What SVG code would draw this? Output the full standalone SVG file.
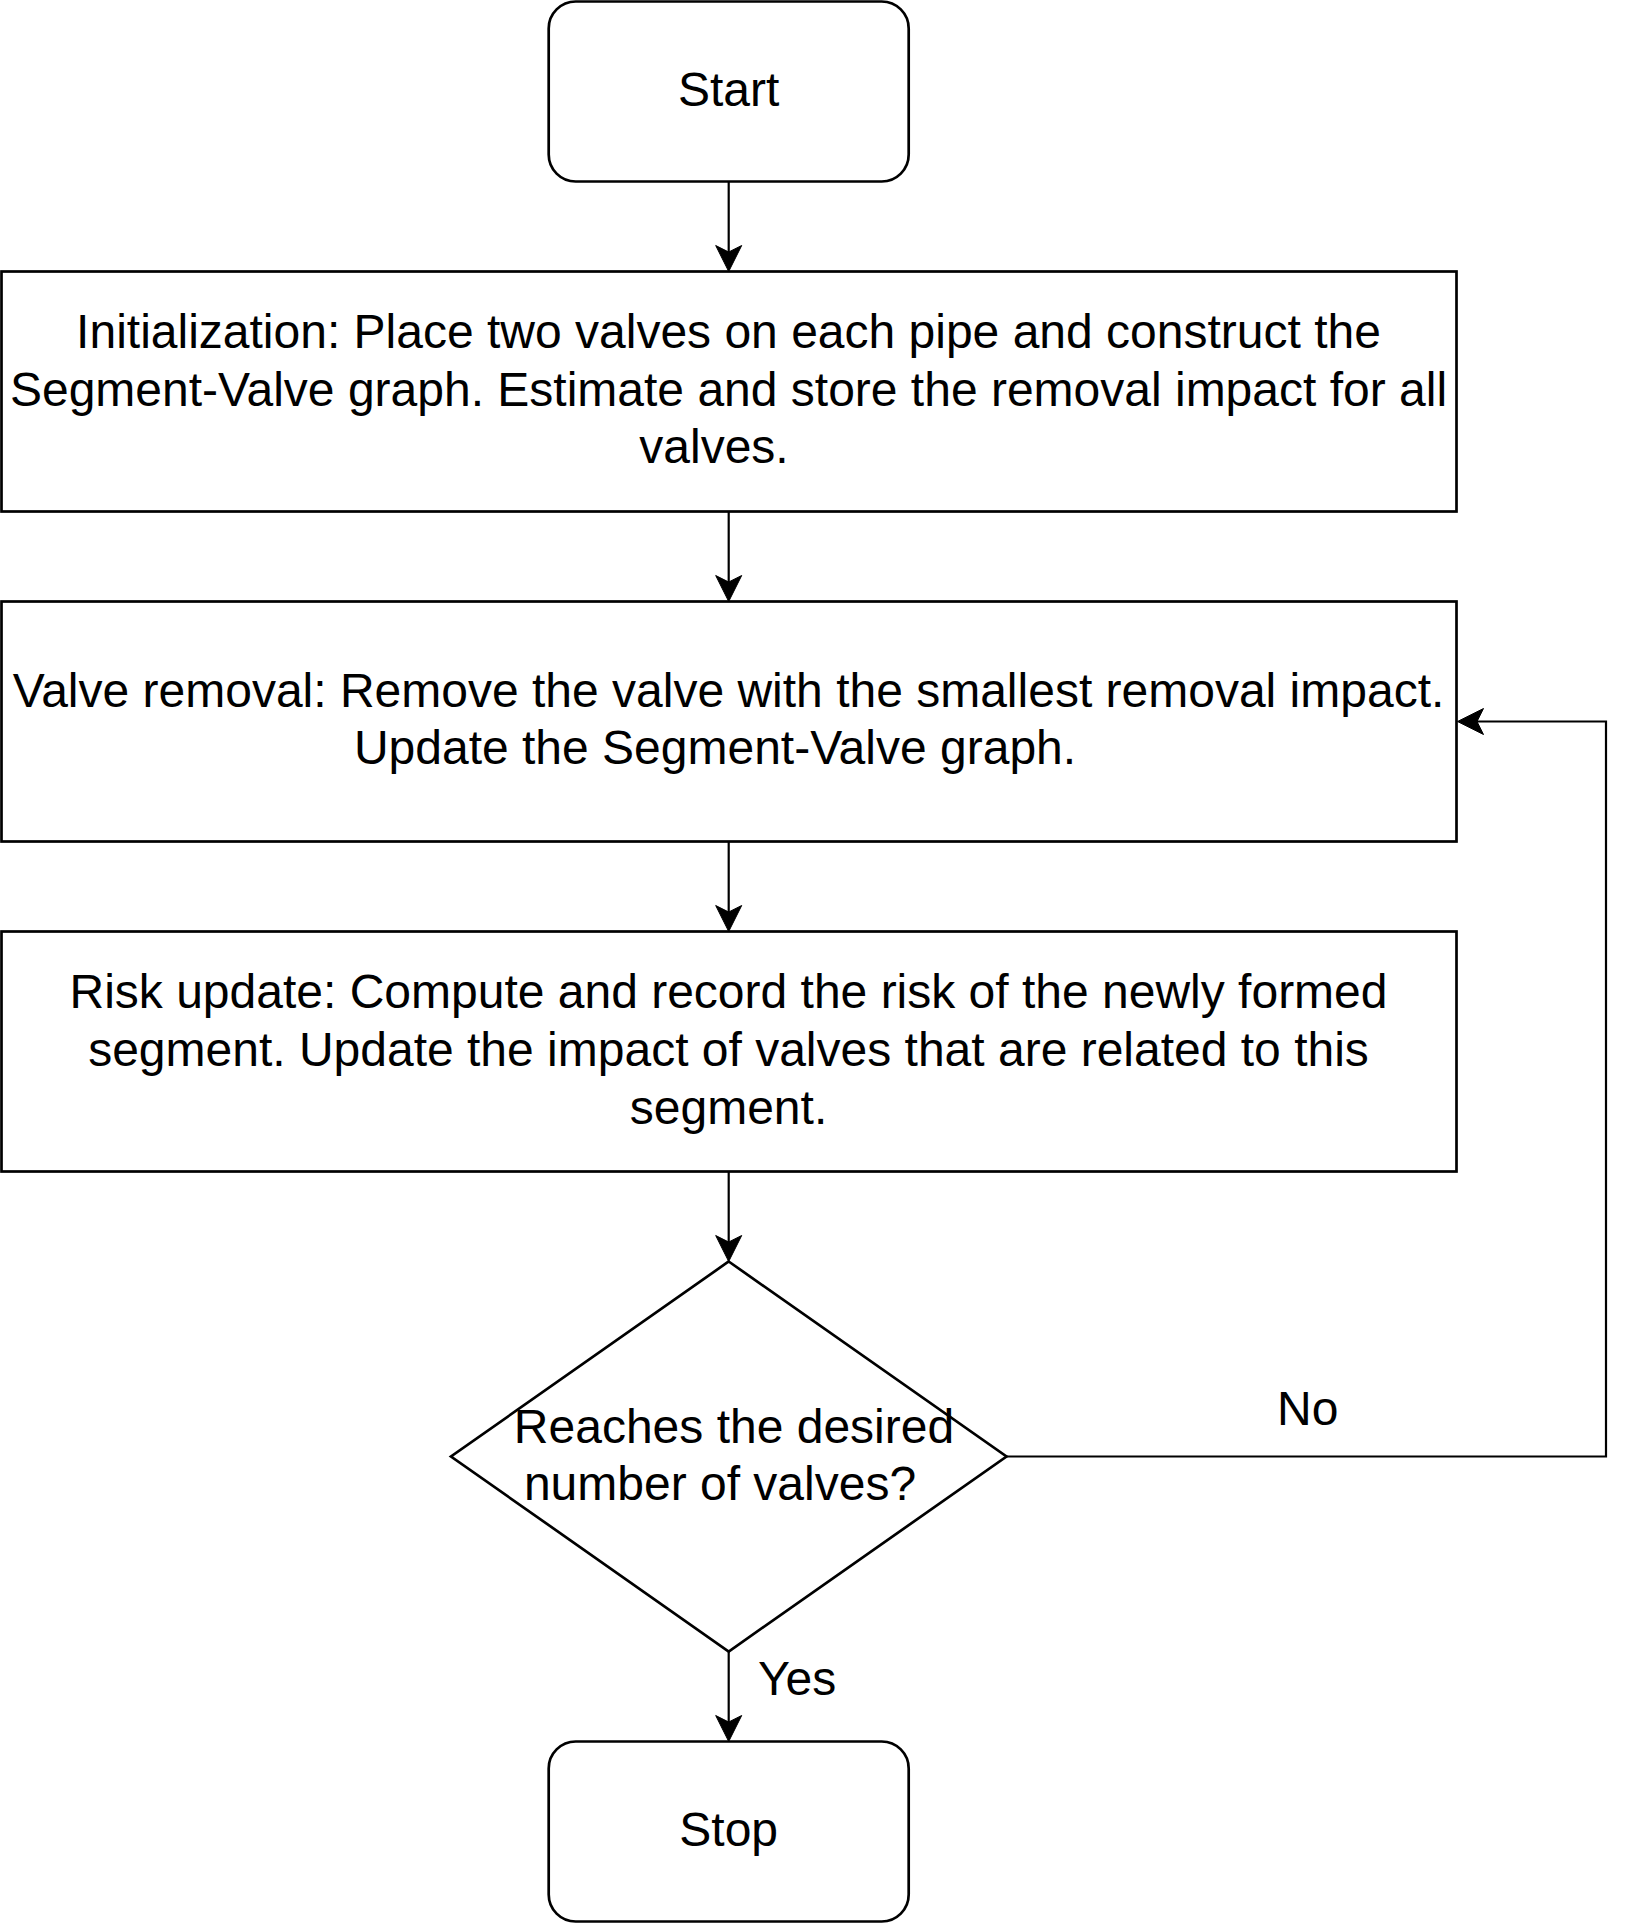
<svg xmlns="http://www.w3.org/2000/svg" width="1632" height="1923" viewBox="0 0 1632 1923">
<style>
.box{fill:#ffffff;stroke:#000000;stroke-width:2.7}
.edge{fill:none;stroke:#000000;stroke-width:2.2}
.t{font-family:"Liberation Sans",Arial,Helvetica,sans-serif;font-size:48px;fill:#000000}
.c{text-anchor:middle}
</style>
<defs>
<marker id="arrow" markerUnits="userSpaceOnUse" viewBox="-8 -15 30 30" markerWidth="30" markerHeight="30" refX="0" refY="0" orient="auto" overflow="visible">
<path d="M19.5,0 L-6.5,-13 L0,0 L-6.5,13 Z" fill="#000000" stroke="#000000" stroke-width="1"/>
</marker>
</defs>
<rect x="0" y="0" width="1632" height="1923" fill="#ffffff"/>
<g id="connectors">
<path class="edge" d="M728.7,181.5 V252" marker-end="url(#arrow)"/>
<path class="edge" d="M728.7,511.5 V582" marker-end="url(#arrow)"/>
<path class="edge" d="M728.7,841.5 V912" marker-end="url(#arrow)"/>
<path class="edge" d="M728.7,1171.5 V1242" marker-end="url(#arrow)"/>
<path class="edge" d="M728.7,1651.5 V1722" marker-end="url(#arrow)"/>
<path class="edge" d="M1006.5,1456.5 H1606 V721.5 H1477" marker-end="url(#arrow)"/>
<text class="t" x="1277" y="1424.5">No</text>
<text class="t" x="758" y="1694.5">Yes</text>
</g>
<g id="start">
<rect class="box" x="548.7" y="1.5" width="360" height="180" rx="27" ry="27"/>
<text class="t c" x="728.7" y="106">Start</text>
</g>
<g id="init">
<rect class="box" x="1.5" y="271.5" width="1455" height="240"/>
<text class="t c" x="728.5" y="348">Initialization: Place two valves on each pipe and construct the</text>
<text class="t c" x="728.5" y="405.6">Segment-Valve graph. Estimate and store the removal impact for all</text>
<text class="t c" x="714" y="463.2">valves.</text>
</g>
<g id="removal">
<rect class="box" x="1.5" y="601.5" width="1455" height="240"/>
<text class="t c" x="728.5" y="706.7">Valve removal: Remove the valve with the smallest removal impact.</text>
<text class="t c" x="715" y="764.3">Update the Segment-Valve graph.</text>
</g>
<g id="risk">
<rect class="box" x="1.5" y="931.5" width="1455" height="240"/>
<text class="t c" x="728.5" y="1008.3">Risk update: Compute and record the risk of the newly formed</text>
<text class="t c" x="728.5" y="1065.9">segment. Update the impact of valves that are related to this</text>
<text class="t c" x="728.5" y="1123.5">segment.</text>
</g>
<g id="decision">
<path class="box" d="M728.7,1261.5 L1006.5,1456.5 L728.7,1651.5 L451,1456.5 Z"/>
<text class="t c" x="734" y="1442.5">Reaches the desired</text>
<text class="t c" x="720" y="1500">number of valves?</text>
</g>
<g id="stop">
<rect class="box" x="548.7" y="1741.5" width="360" height="180" rx="27" ry="27"/>
<text class="t c" x="728.7" y="1846">Stop</text>
</g>
</svg>
